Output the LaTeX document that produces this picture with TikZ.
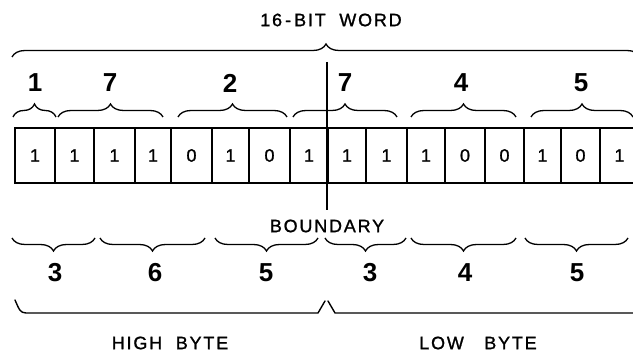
\documentclass[tikz,border=0pt]{standalone}
\usepackage{fontspec}
\setmainfont{Liberation Sans}
\newfontfamily\leroy[FakeBold=1.2]{Liberation Sans}
\usetikzlibrary{decorations.pathreplacing}
\begin{document}
\begin{tikzpicture}[x=1pt,y=-1pt,
  bracedeco/.style={decorate,decoration={brace,amplitude=13pt},line width=1.3pt},
  cellbox/.style={draw,line width=1.7pt,minimum height=55pt,inner sep=0pt,
    font=\leroy\fontsize{18}{18}\selectfont},
  bignum/.style={font=\fontsize{26}{26}\selectfont\bfseries},
  lab/.style={font=\leroy\fontsize{18}{18}\selectfont\addfontfeature{LetterSpace=10}},
  rule/.style={line width=1.4pt,line join=round,line cap=round}]
\path[use as bounding box] (0,0) rectangle (633,355);
\clip (0,0) rectangle (633,355);
\fill[white] (0,0) rectangle (633,355);
% cells
\foreach \a/\b/\v [count=\i] in {15/55/1,55/94/1,94/135/1,135/171/1,171/212/0,212/249/1,249/290/0,290/328/1,
  328/366/1,366/407/1,407/445/1,445/485/0,485/524/0,524/561/1,561/600/0,600/639/1}
  \node[cellbox,minimum width={\b-\a}] (c\i) at ({(\a+\b)/2},155.5) {\v};
% boundary
\coordinate (btop) at (327,62);
\coordinate (bbot) at (327,210);
\draw[line width=1.7pt] (btop) -- (bbot);
\node[lab] (boundary) at (327,226) {BOUNDARY};
% top label and big brace
\node[lab] (word) at (331,20) {16\,-\,BIT\ \ WORD};
\coordinate (wl) at (12,57);
\coordinate (wr) at (640,57);
\draw[bracedeco] (wl) -- (wr);
% top small braces and octal digits
\foreach \a/\b [count=\i] in {13/56,58/163,178/287,293/397,411/516,531/633}{
  \coordinate (ta\i) at (\a,117);
  \coordinate (tb\i) at (\b,117);
  \draw[bracedeco] (ta\i) -- (tb\i);
}
\node[bignum] (t1) at (35,83) {1};
\node[bignum] (t2) at (110,83) {7};
\node[bignum] (t3) at (230,83) {2};
\node[bignum] (t4) at (345,83) {7};
\node[bignum] (t5) at (461,83) {4};
\node[bignum] (t6) at (581,83) {5};
% bottom small braces
\foreach \a/\b [count=\i] in {12/95,100/205,215/318,325/406,411/516,525/628}{
  \coordinate (ba\i) at (\a,238);
  \coordinate (bb\i) at (\b,238);
  \draw[bracedeco] (bb\i) -- (ba\i);
}
\node[bignum] (b1) at (55,273) {3};
\node[bignum] (b2) at (155,273) {6};
\node[bignum] (b3) at (266,273) {5};
\node[bignum] (b4) at (370,273) {3};
\node[bignum] (b5) at (465,273) {4};
\node[bignum] (b6) at (577,273) {5};
% byte brackets
\coordinate (h1) at (15,300);
\coordinate (h2) at (318,313);
\coordinate (l1) at (328,301);
\draw[rule] (h1) .. controls (19,309) and (20,313) .. (26,313) -- (h2) -- (325,301);
\draw[rule] (l1) -- (335,313) -- (640,313);
\node[lab] (high) at (170,343) {HIGH\ \ BYTE};
\node[lab] (low) at (478,343) {LOW\ \ \ BYTE};
\end{tikzpicture}
\end{document}
